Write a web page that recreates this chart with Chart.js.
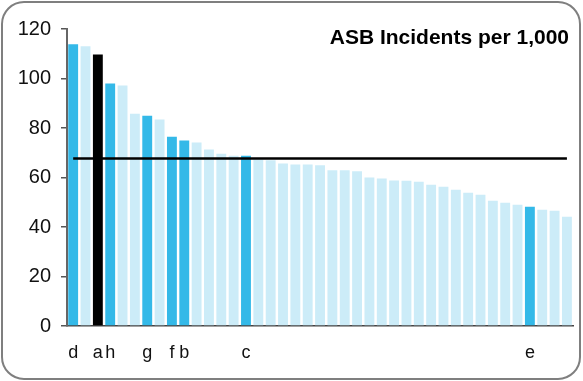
<!DOCTYPE html>
<html>
<head>
<meta charset="utf-8">
<title>ASB Incidents per 1,000</title>
<script src="https://cdn.jsdelivr.net/npm/chart.js@4/dist/chart.umd.min.js"></script>
<style>
  html, body { margin: 0; padding: 0; background: #fff; }
  #chart { display: block; }
</style>
</head>
<body>
<canvas id="chart" width="583" height="381"></canvas>
<script>
// Area labels along the bottom (blank = unnamed area)
const areaLabels = [
    'd', '', 'a', 'h', '', '', 'g', '', 'f', 'b',
    '', '', '', '', 'c', '', '', '', '', '',
    '', '', '', '', '', '', '', '', '', '',
    '', '', '', '', '', '', '', 'e', '', '', ''
];

// ASB incidents per 1,000 population, ranked high to low
const incidents = [
    113.8, 113.0, 109.7, 98.0, 97.2, 85.8, 85.0, 83.4, 76.5, 74.9,
    74.1, 71.3, 69.6, 68.8, 68.8, 67.3, 67.0, 65.7, 65.3, 65.3,
    64.9, 62.9, 62.9, 62.5, 60.0, 59.6, 58.8, 58.7, 58.3, 57.1,
    56.3, 55.1, 53.8, 53.0, 50.6, 49.8, 49.0, 48.2, 47.0, 46.6,
    44.1
];

// Average across all areas (horizontal reference line)
const averageRate = 67.7;

// Selected area shown in black, other named areas highlighted
const selectedArea = 'a';

const yTicks = [0, 20, 40, 60, 80, 100, 120];

const barColors = areaLabels.map(label => {
    if (label === selectedArea) return '#000000';
    if (label !== '') return '#34B9E8';
    return '#CCECF8';
});

// Rounded frame and title drawn directly on the canvas
const framePlugin = {
    id: 'frame',
    afterDraw(chart) {
        const ctx = chart.ctx;
        ctx.save();
        ctx.strokeStyle = '#7f7f7f';
        ctx.lineWidth = 2;
        ctx.beginPath();
        ctx.roundRect(2, 2, 578, 377, 22);
        ctx.stroke();

        ctx.fillStyle = '#000';
        ctx.font = 'bold 21px "Liberation Sans", Arial, sans-serif';
        ctx.textAlign = 'right';
        ctx.textBaseline = 'alphabetic';
        ctx.fillText('ASB Incidents per 1,000', 569, 44);
        ctx.restore();
    }
};

new Chart(document.getElementById('chart').getContext('2d'), {
    data: {
        labels: areaLabels,
        datasets: [
            {
                type: 'line',
                label: 'Average',
                data: areaLabels.map(() => averageRate),
                borderColor: '#000',
                borderWidth: 2.5,
                pointRadius: 0,
                fill: false,
                order: 0
            },
            {
                type: 'bar',
                label: 'ASB Incidents',
                data: incidents,
                backgroundColor: barColors,
                borderWidth: 0,
                barPercentage: 0.8,
                categoryPercentage: 1.0,
                order: 1
            }
        ]
    },
    options: {
        responsive: false,
        animation: false,
        devicePixelRatio: 1,
        layout: {
            padding: { left: 0, right: 7, top: 29, bottom: 0 }
        },
        plugins: {
            legend: { display: false },
            tooltip: { enabled: false },
            title: { display: false }
        },
        scales: {
            x: {
                grid: { display: false, drawTicks: false },
                border: { display: true, color: '#444', width: 1.5 },
                ticks: {
                    autoSkip: false,
                    maxRotation: 0,
                    padding: 16,
                    color: '#111',
                    font: { family: '"Liberation Sans", Arial, sans-serif', size: 18 }
                },
                afterFit(scale) {
                    scale.height = 55;
                }
            },
            y: {
                min: 0,
                max: 120,
                afterBuildTicks(scale) {
                    scale.ticks = yTicks.map(v => ({ value: v }));
                },
                grid: {
                    drawOnChartArea: false,
                    drawTicks: true,
                    tickLength: 6,
                    color: '#555',
                    lineWidth: 1.5
                },
                border: { display: true, color: '#666', width: 2 },
                ticks: {
                    padding: 10,
                    color: '#111',
                    font: { family: '"Liberation Sans", Arial, sans-serif', size: 20 }
                },
                afterFit(scale) {
                    scale.width = 67;
                }
            }
        }
    },
    plugins: [framePlugin]
});
</script>
</body>
</html>
